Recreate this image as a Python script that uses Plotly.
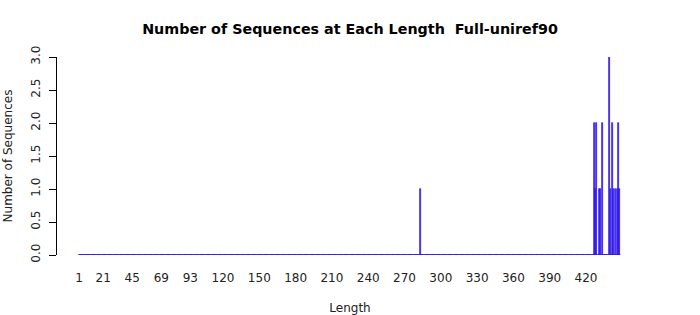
import plotly.graph_objects as go

# Data: sequence lengths with nonzero counts
max_length = 448
nonzero_lengths = [283, 427, 428, 429, 431, 432, 434, 439, 440, 442, 443, 444, 446, 447, 448]
nonzero_counts = [1, 2, 1, 2, 1, 1, 2, 3, 1, 2, 1, 1, 1, 2, 1]

lengths = list(range(1, max_length + 1))
count_map = dict(zip(nonzero_lengths, nonzero_counts))
counts = [count_map.get(L, 0) for L in lengths]

x_tick_vals = [1, 21, 45, 69, 93, 120, 150, 180, 210, 240, 270, 300, 330, 360, 390, 420]
x_tick_text = [str(v) for v in x_tick_vals]
y_tick_vals = [0, 0.5, 1.0, 1.5, 2.0, 2.5, 3.0]
y_tick_text = ["0.0", "0.5", "1.0", "1.5", "2.0", "2.5", "3.0"]

font_family = "DejaVu Sans"

fig = go.Figure()
# zero baseline across all categories (R draws zero-height bars as a line)
fig.add_trace(go.Scatter(
    x=[lengths[0] - 0.4, lengths[-1] + 0.4], y=[0, 0], mode="lines",
    line=dict(color="#2a14e6", width=1.3), hoverinfo="skip", showlegend=False,
))
fig.add_trace(go.Bar(
    x=lengths, y=counts, width=0.83,
    marker=dict(color="#5a30f0", line=dict(color="#2410e6", width=0.7)),
    showlegend=False,
))

fig.update_layout(
    width=700, height=315,
    margin=dict(l=57, r=57, t=57, b=60, autoexpand=False),
    paper_bgcolor="white", plot_bgcolor="white",
    font=dict(family=font_family, size=12, color="#222"),
    title=dict(
        text="<b>Number of Sequences at Each Length  Full-uniref90</b>",
        x=0.5, xanchor="center", y=0.908, yanchor="middle",
        font=dict(family=font_family, size=14.3, color="black"),
    ),
    bargap=0,
)
fig.update_xaxes(
    automargin=False,
    range=[-17.2, 467.1],
    tickmode="array", tickvals=x_tick_vals, ticktext=x_tick_text,
    showline=False, showgrid=False, zeroline=False, ticks="",
    ticklabelstandoff=14,
    tickfont=dict(size=12, color="#222"),
    title=dict(text="Length", standoff=19, font=dict(size=12, color="#222")),
)
fig.update_yaxes(
    automargin=False,
    range=[0, 3],
    tickmode="array", tickvals=y_tick_vals, ticktext=y_tick_text,
    tickangle=-90,
    showline=True, linecolor="black", linewidth=1,
    ticks="outside", ticklen=7, tickcolor="black", tickwidth=1,
    ticklabelstandoff=4,
    showgrid=False, zeroline=False,
    tickfont=dict(size=12, color="#222"),
    title=dict(text="Number of Sequences", standoff=14, font=dict(size=12, color="#222")),
)

fig.write_html("out.html")
